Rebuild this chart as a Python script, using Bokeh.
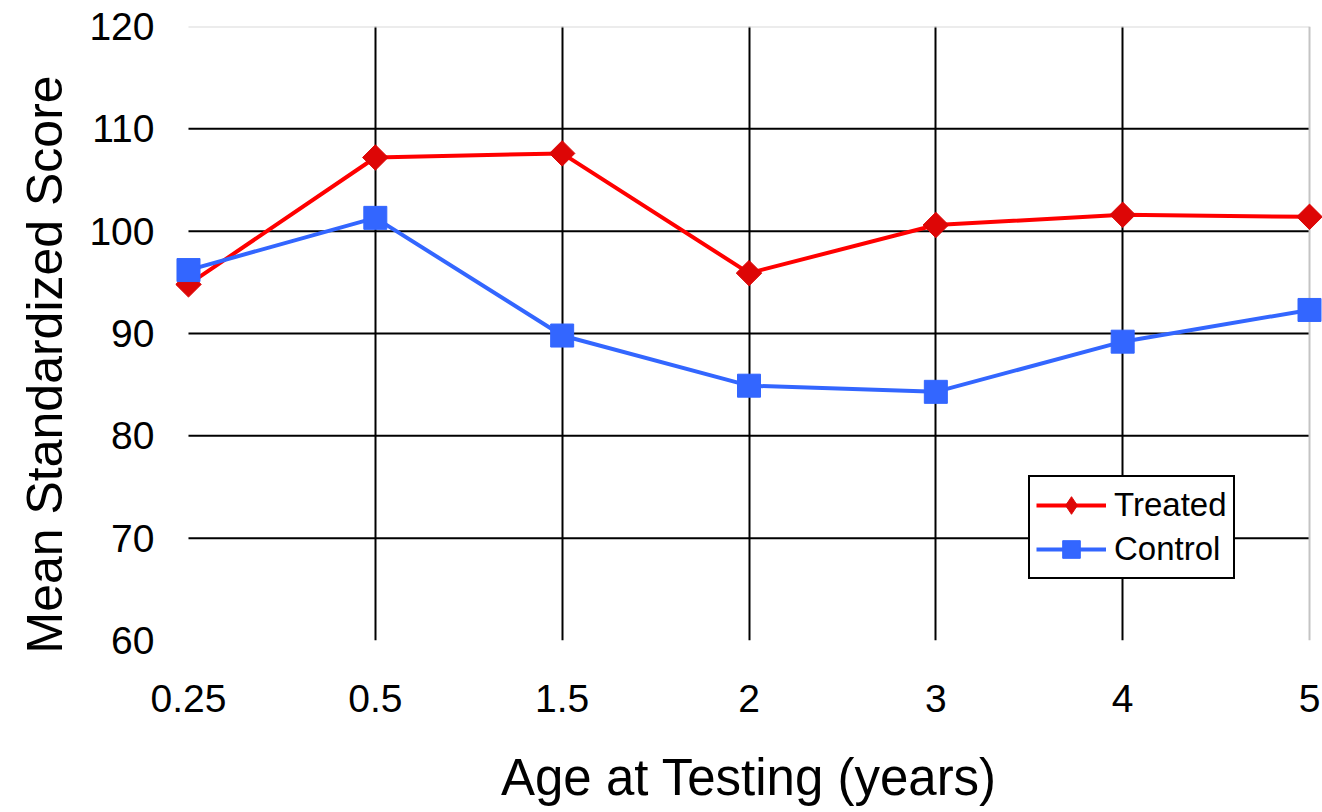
import math
from bokeh.plotting import figure
from bokeh.models import (Range1d, FixedTicker, Legend, LegendItem, ColumnDataSource, Title)
from bokeh.embed import file_html
from bokeh.resources import INLINE

# Mean standardized scores by age at testing
ages = ["0.25", "0.5", "1.5", "2", "3", "4", "5"]
treated = [94.8, 107.2, 107.6, 95.9, 100.6, 101.6, 101.4]
control = [96.2, 101.3, 89.8, 84.9, 84.3, 89.2, 92.3]
y_ticks = [60, 70, 80, 90, 100, 110, 120]

FONT = "Liberation Sans"
RED_LINE, RED_MARK, BLUE = "#ff0000", "#dd0606", "#3366ff"
pos = list(range(len(ages)))
last = pos[-1]
pad = 0.0695

p = figure(width=1322, height=812, output_backend="svg", toolbar_location=None,
           x_range=Range1d(-pad, last + pad), y_range=Range1d(y_ticks[0], y_ticks[-1]),
           min_border_left=174, min_border_right=0, min_border_top=26, min_border_bottom=172)
p.outline_line_color = None
p.background_fill_color = "white"
p.border_fill_color = "white"

# vertical grid at interior categories
p.xgrid.ticker = FixedTicker(ticks=pos[1:-1])
p.xgrid.grid_line_color = "black"
p.xgrid.grid_line_width = 2
p.ygrid.grid_line_color = None

# horizontal grid lines spanning the category extent
inner = y_ticks[1:-1]
p.segment(x0=[0] * len(inner), x1=[last] * len(inner), y0=inner, y1=inner,
          line_color="black", line_width=2)
p.segment(x0=[0], x1=[last], y0=[y_ticks[-1]], y1=[y_ticks[-1]],
          line_color="#d9d9d9", line_width=2)
p.segment(x0=[last], x1=[last], y0=[y_ticks[0]], y1=[y_ticks[-1]],
          line_color="#c4c4c4", line_width=2)

# axes
p.xaxis.ticker = FixedTicker(ticks=pos)
p.xaxis.major_label_overrides = {i: a for i, a in enumerate(ages)}
p.yaxis.ticker = FixedTicker(ticks=y_ticks)
for ax in (p.xaxis[0], p.yaxis[0]):
    ax.axis_line_color = None
    ax.major_tick_line_color = None
    ax.minor_tick_line_color = None
    ax.major_label_text_font = FONT
    ax.major_label_text_font_size = "39px"
    ax.major_label_text_color = "black"
    ax.axis_label_text_font = FONT
    ax.axis_label_text_font_size = "51px"
    ax.axis_label_text_font_style = "normal"
    ax.axis_label_text_color = "black"
p.xaxis.axis_label = "Age at Testing (years)"
p.xaxis.major_label_standoff = 38
p.xaxis.axis_label_standoff = 34
p.yaxis.major_label_standoff = 15

# y-axis title, set in the left panel and anchored near the bottom of the frame
p.add_layout(Title(text="Mean Standardized Score", align="left", offset=-13,
                   standoff=28, text_font=FONT, text_font_size="50px",
                   text_font_style="normal", text_color="black"), "left")

src_t = ColumnDataSource(dict(x=pos, y=treated))
src_c = ColumnDataSource(dict(x=pos, y=control))

lt = p.line("x", "y", source=src_t, line_color=RED_LINE, line_width=4)
# diamond (legend swatch), covered by the wider rotated square on top
mt_key = p.scatter("x", "y", source=src_t, marker="diamond", size=22,
                   fill_color=RED_MARK, line_color=RED_MARK)
p.scatter("x", "y", source=src_t, marker="square", angle=math.pi / 4, size=18,
          fill_color=RED_MARK, line_color=RED_MARK)
lc = p.line("x", "y", source=src_c, line_color=BLUE, line_width=4)
mc = p.scatter("x", "y", source=src_c, marker="square", size=23,
               fill_color=BLUE, line_color=BLUE)

legend = Legend(items=[LegendItem(label="Treated", renderers=[lt, mt_key]),
                       LegendItem(label="Control", renderers=[lc, mc])],
                location=(853, 61))
legend.label_text_font = FONT
legend.label_text_font_size = "33px"
legend.label_text_color = "black"
legend.glyph_width = 70
legend.glyph_height = 44
legend.label_height = 44
legend.label_standoff = 8
legend.spacing = 0
legend.padding = 6
legend.margin = 0
legend.border_line_color = "black"
legend.border_line_alpha = 1
legend.border_line_width = 2
legend.background_fill_color = "white"
legend.background_fill_alpha = 1
p.add_layout(legend)

open("out.html", "w").write(file_html(p, INLINE))
